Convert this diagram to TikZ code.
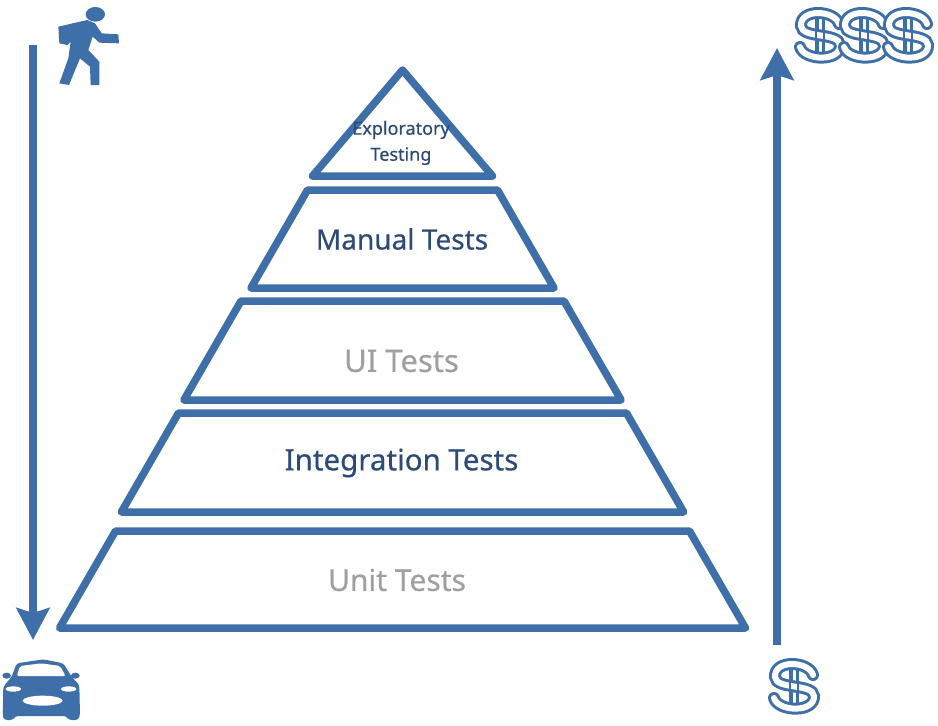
\documentclass[tikz,border=0pt]{standalone}
\usepackage{fontspec}
\setmainfont{Noto Sans}
\newfontfamily\heavyfont[FakeBold=0.5]{Noto Sans}
\usepackage{xcolor}
\usetikzlibrary{shapes.geometric, arrows.meta, positioning, shadows}
\definecolor{pyrblue}{RGB}{63,111,168}
\definecolor{pyrtext}{RGB}{45,75,120}
\definecolor{pyrgrey}{RGB}{160,160,160}

\begin{document}
\begin{tikzpicture}[
    x=1pt, y=-1pt,
    >=Stealth,
    softshadow/.style={drop shadow={shadow xshift=2pt, shadow yshift=-3pt, fill=pyrblue, opacity=0.2}},
    tier/.style={trapezium, trapezium angle=60, draw=pyrblue, fill=white, line width=7.5pt, line join=round, inner sep=0pt, outer sep=0pt, text depth=0pt, softshadow},
    peak/.style={isosceles triangle, isosceles triangle apex angle=80, isosceles triangle stretches=true, shape border rotate=90, draw=pyrblue, fill=white, line width=7.5pt, line join=round, inner sep=0pt, outer sep=0pt, softshadow},
    darklabel/.style={text=pyrtext, inner sep=0pt},
    greylabel/.style={text=pyrgrey, inner sep=0pt},
    flow/.style={->, draw=pyrblue, line width=8pt, >={Stealth[length=32pt, width=33pt, inset=5pt]}},
    dollar/.pic={
        \draw[pyrblue, line width=10pt] (0,-27) -- (0,27);
        \draw[white, line width=3pt] (0,-27) -- (0,27);
        \draw[pyrblue, line width=12pt, line cap=round] (19,-11) .. controls (15,-25) and (-20,-27) .. (-19,-9) .. controls (-18,4) and (19,-3) .. (20,10) .. controls (21,27) and (-16,26) .. (-20,12);
        \draw[white, line width=6pt, line cap=round] (19,-11) .. controls (15,-25) and (-20,-27) .. (-19,-9) .. controls (-18,4) and (19,-3) .. (20,10) .. controls (21,27) and (-16,26) .. (-20,12);
        \draw[pyrblue, line width=2.5pt] (-4,-17) -- (-4,17) (4,-17) -- (4,17);
    },
]
    \useasboundingbox (0,0) rectangle (938,726);

    % Pyramid, bottom up
    \node[tier, text width=574pt, text height=97pt] (unit) at (402.5,579.5) {};
    \node[tier, text width=448pt, text height=99pt, above=19pt of unit] (integration) {};
    \node[tier, text width=323pt, text height=99pt, above=13pt of integration] (ui) {};
    \node[tier, text width=190pt, text height=98pt, above=13pt of ui] (manual) {};
    \node[peak, minimum width=180pt, minimum height=106pt, above=14pt of manual] (exploratory) {\phantom{x}};

    % Tier texts
    \node[greylabel, font=\heavyfont\fontsize{30}{30}\selectfont] (unitlabel) at (397,580) {Unit Tests};
    \node[darklabel, font=\heavyfont\fontsize{29.5}{30}\selectfont] (integrationlabel) at (401.5,463) {Integration Tests};
    \node[greylabel, font=\heavyfont\fontsize{31}{31}\selectfont] (uilabel) at (401.5,361) {UI Tests};
    \node[darklabel, font=\heavyfont\fontsize{28}{28}\selectfont] (manuallabel) at (402,239) {Manual Tests};
    \node[darklabel, font=\heavyfont\fontsize{18}{26}\selectfont, align=center] (exploratorylabel) at (401,143) {Exploratory\\Testing};

    % Side arrows
    \coordinate (walkstart) at (33,45);
    \coordinate (walkend) at (33,640);
    \coordinate (coststart) at (777,645);
    \coordinate (costend) at (777,48);
    \draw[flow] (walkstart) -- (walkend);
    \draw[flow] (coststart) -- (costend);

    % Walker
    \begin{scope}[scale=1/3]
        \fill[pyrblue] (286,43) ellipse [x radius=29, y radius=22];
        \fill[pyrblue] (175,80) -- (262,60) -- (285,70) -- (305,100) -- (355,103) -- (357,130) -- (298,128) -- (278,110) -- (265,150) -- (298,185) -- (298,255) -- (272,255) -- (270,200) -- (240,175) -- (207,255) -- (178,250) -- (205,175) -- (212,125) -- (203,135) -- (178,130) -- cycle;
    \end{scope}

    % Car
    \begin{scope}[shift={(0,610)}, scale=1/3]
        \fill[pyrblue, rounded corners=3pt] (35,200) -- (50,160) -- (130,148) -- (190,160) -- (215,200) -- (238,225) -- (240,315) -- (235,330) -- (205,330) -- (200,318) -- (45,318) -- (40,330) -- (12,330) -- (8,315) -- (10,230) -- cycle;
        \fill[pyrblue] (20,197) ellipse [x radius=13, y radius=9];
        \fill[pyrblue] (226,197) ellipse [x radius=13, y radius=9];
        \fill[white, rounded corners=2pt] (50,198) -- (60,168) -- (125,160) -- (180,168) -- (197,198) -- cycle;
        \fill[white] (40,237) ellipse [x radius=23, y radius=8];
        \fill[white] (206,237) ellipse [x radius=23, y radius=8];
        \fill[white] (128,272) ellipse [x radius=60, y radius=15];
    \end{scope}

    % Dollars
    \pic at (794,686) {dollar};
    \pic at (820,35) {dollar};
    \pic at (864,35) {dollar};
    \pic at (908,35) {dollar};
\end{tikzpicture}
\end{document}
